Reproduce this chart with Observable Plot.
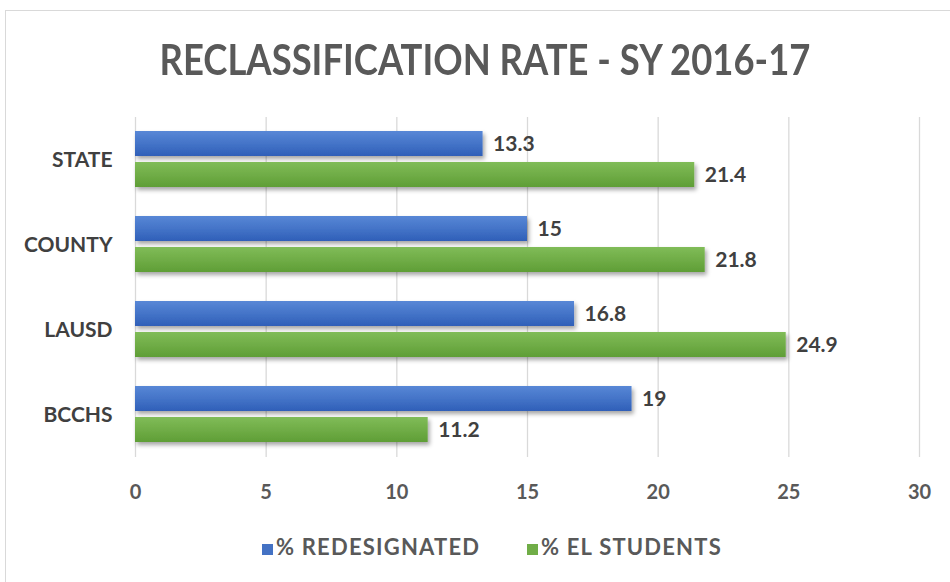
<!DOCTYPE html>
<html>
<head>
<meta charset="utf-8">
<script src="https://cdn.jsdelivr.net/npm/d3@7"></script>
<script src="https://cdn.jsdelivr.net/npm/@observablehq/plot@0.6"></script>
<style>
  body { margin: 0; background: #fff; font-family: Lato, sans-serif; }
  #frame { position: absolute; left: 5px; top: 10px; width: 1000px; height: 650px; border: 1px solid #d9d9d9; box-sizing: border-box; }
  #title { position: absolute; left: 0; top: 34px; width: 970px; text-align: center; font-size: 42px; font-weight: bold; color: #595959; transform: scaleX(0.867); transform-origin: 485px 0; }
  #chart { position: absolute; left: 0; top: 100px; }
  #legend { position: absolute; left: 0; top: 533px; width: 950px; height: 40px; font-size: 22px; font-weight: bold; color: #595959; letter-spacing: 1.2px; }
  #legend .sw { position: absolute; top: 11px; width: 11px; height: 11px; }
  #legend .lab { position: absolute; top: 0; white-space: nowrap; }
</style>
</head>
<body>
<div id="frame"></div>
<div id="title">RECLASSIFICATION RATE - SY 2016-17</div>
<div id="chart"></div>
<div id="legend"></div>
<script>
const categories = ["STATE", "COUNTY", "LAUSD", "BCCHS"];
const series = ["% REDESIGNATED", "% EL STUDENTS"];
const redesignated = [13.3, 15, 16.8, 19];
const elStudents = [21.4, 21.8, 24.9, 11.2];
const xTicks = [0, 5, 10, 15, 20, 25, 30];
const colors = ["#4472C4", "#70AD47"];

const rows = [];
categories.forEach((c, i) => {
  rows.push({category: c, series: series[0], value: redesignated[i]});
  rows.push({category: c, series: series[1], value: elStudents[i]});
});

const font = 'Lato, sans-serif';

const plot = Plot.plot({
  width: 950,
  height: 420,
  marginLeft: 135,
  marginRight: 31,
  marginTop: 16,
  marginBottom: 62,
  style: {fontFamily: font, fontWeight: "bold", background: "transparent"},
  x: {domain: [0, 30], ticks: xTicks, label: null},
  fy: {domain: categories, padding: 0, label: null},
  y: {domain: series, paddingInner: 0.18, paddingOuter: 0.46, axis: null},
  marks: [
    Plot.ruleX(xTicks, {stroke: "#d9d9d9", strokeWidth: 1.3, strokeOpacity: 1}),
    Plot.barX(rows, {fy: "category", y: "series", x: "value", fill: d => d.series === series[0] ? "url(#gBlue)" : "url(#gGreen)"}),
    Plot.text(rows, {fy: "category", y: "series", x: "value", text: d => String(d.value), dx: 10, textAnchor: "start", fill: "#404040", fontSize: 21, fontWeight: "bold"}),
    Plot.axisX({ticks: xTicks, tickSize: 0, tickPadding: 27, fontSize: 20, fill: "#595959", fontWeight: "bold", anchor: "bottom", label: null}),
    Plot.axisFy({anchor: "left", tickSize: 0, tickPadding: 23, fontSize: 21, fill: "#404040", fontWeight: "bold", label: null})
  ]
});

const svg = d3.select(plot);
const defs = svg.insert("defs", ":first-child");
function grad(id, top, mid, bot) {
  const g = defs.append("linearGradient").attr("id", id).attr("x1", 0).attr("y1", 0).attr("x2", 0).attr("y2", 1);
  g.append("stop").attr("offset", "0%").attr("stop-color", top);
  g.append("stop").attr("offset", "50%").attr("stop-color", mid);
  g.append("stop").attr("offset", "100%").attr("stop-color", bot);
}
grad("gBlue", "#5887d6", "#4474c8", "#2f5fb8");
grad("gGreen", "#80bc58", "#70ad47", "#5f9e36");
const f = defs.append("filter").attr("id", "shadow").attr("x", "-5%").attr("y", "-20%").attr("width", "115%").attr("height", "160%");
f.append("feDropShadow").attr("dx", 2).attr("dy", 3).attr("stdDeviation", 2).attr("flood-color", "#000").attr("flood-opacity", 0.35);
svg.selectAll("g[aria-label='bar'] rect").attr("filter", "url(#shadow)");

document.getElementById("chart").appendChild(plot);

const legend = document.getElementById("legend");
const legendX = [262, 527];
series.forEach((s, i) => {
  const sw = document.createElement("div");
  sw.className = "sw";
  sw.style.left = legendX[i] + "px";
  sw.style.background = colors[i];
  legend.appendChild(sw);
  const lab = document.createElement("div");
  lab.className = "lab";
  lab.style.left = (legendX[i] + 14) + "px";
  lab.textContent = s;
  legend.appendChild(lab);
});
</script>
</body>
</html>
